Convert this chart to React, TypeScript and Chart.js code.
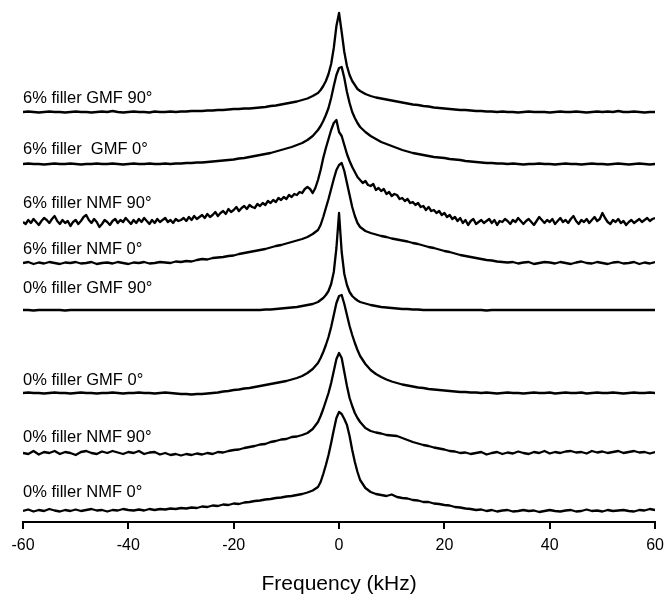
import React, { useEffect, useRef } from "react";
import { Chart, registerables } from "chart.js";

Chart.register(...registerables);

// Frequency grid (kHz)
const FREQ_KHZ = [
  -60, -59, -58, -57, -56, -55, -54, -53, -52, -51,
  -50, -49, -48, -47, -46, -45, -44, -43, -42, -41,
  -40, -39, -38, -37, -36, -35, -34, -33, -32, -31,
  -30, -29, -28, -27, -26, -25, -24, -23, -22, -21,
  -20, -19, -18, -17, -16, -15, -14, -13, -12, -11,
  -10, -9, -8, -7, -6, -5, -4,
  -3.5, -3, -2.5, -2, -1.5, -1, -0.5, 0, 0.5, 1, 1.5, 2, 2.5, 3, 3.5,
  4, 5, 6, 7, 8, 9, 10,
  11, 12, 13, 14, 15, 16, 17, 18, 19, 20,
  21, 22, 23, 24, 25, 26, 27, 28, 29, 30,
  31, 32, 33, 34, 35, 36, 37, 38, 39, 40,
  41, 42, 43, 44, 45, 46, 47, 48, 49, 50,
  51, 52, 53, 54, 55, 56, 57, 58, 59, 60,
];

// finer grid used for the noisiest spectrum
const FREQ_FINE = [
  -60, -59.5, -59, -58.5, -58, -57.5, -57, -56.5, -56, -55.5,
  -55, -54.5, -54, -53.5, -53, -52.5, -52, -51.5, -51, -50.5,
  -50, -49.5, -49, -48.5, -48, -47.5, -47, -46.5, -46, -45.5,
  -45, -44.5, -44, -43.5, -43, -42.5, -42, -41.5, -41, -40.5,
  -40, -39.5, -39, -38.5, -38, -37.5, -37, -36.5, -36, -35.5,
  -35, -34.5, -34, -33.5, -33, -32.5, -32, -31.5, -31, -30.5,
  -30, -29.5, -29, -28.5, -28, -27.5, -27, -26.5, -26, -25.5,
  -25, -24.5, -24, -23.5, -23, -22.5, -22, -21.5, -21, -20.5,
  -20, -19.5, -19, -18.5, -18, -17.5, -17, -16.5, -16, -15.5,
  -15, -14.5, -14, -13.5, -13, -12.5, -12, -11.5, -11, -10.5,
  -10, -9.5, -9, -8.5, -8, -7.5, -7, -6.5, -6, -5.5,
  -5, -4.5, -4, -3.5, -3, -2.5, -2, -1.5, -1, -0.5,
  0, 0.5, 1, 1.5, 2, 2.5, 3, 3.5, 4, 4.5,
  5, 5.5, 6, 6.5, 7, 7.5, 8, 8.5, 9, 9.5,
  10, 10.5, 11, 11.5, 12, 12.5, 13, 13.5, 14, 14.5,
  15, 15.5, 16, 16.5, 17, 17.5, 18, 18.5, 19, 19.5,
  20, 20.5, 21, 21.5, 22, 22.5, 23, 23.5, 24, 24.5,
  25, 25.5, 26, 26.5, 27, 27.5, 28, 28.5, 29, 29.5,
  30, 30.5, 31, 31.5, 32, 32.5, 33, 33.5, 34, 34.5,
  35, 35.5, 36, 36.5, 37, 37.5, 38, 38.5, 39, 39.5,
  40, 40.5, 41, 41.5, 42, 42.5, 43, 43.5, 44, 44.5,
  45, 45.5, 46, 46.5, 47, 47.5, 48, 48.5, 49, 49.5,
  50, 50.5, 51, 51.5, 52, 52.5, 53, 53.5, 54, 54.5,
  55, 55.5, 56, 56.5, 57, 57.5, 58, 58.5, 59, 59.5,
  60,
];

const X_TICKS = [-60, -40, -20, 0, 20, 40, 60];

const TRACE_LABELS = [
  "6% filler GMF 90°",
  "6% filler  GMF 0°",
  "6% filler NMF 90°",
  "6% filler NMF 0°",
  "0% filler GMF 90°",
  "0% filler GMF 0°",
  "0% filler NMF 90°",
  "0% filler NMF 0°",
];

// vertical stacking offset of each spectrum (arbitrary intensity units)
const OFFSETS = [410, 358, 300, 259, 212, 129, 69, 11];
// level at which each trace label sits
const LABEL_LEVELS = [424, 373, 319, 273, 234, 142, 85, 30];

// intensities (normalised, peak ~100)
const S6_GMF90 = [
  0, 0.5, 0, -0.5, 0, 0.5, 0, 0, -0.5, 0,
  0.5, 0, 0, -0.5, 0, 0.5, 0, 1, 0, -0.5,
  0, 0.5, 0, 0, -0.5, 0.5, 0, 0, 0.5, 0,
  0.5, 0.5, 1, 1, 1, 1.5, 1.5, 2, 2, 2.5,
  3, 3, 3.5, 3.5, 4, 4.5, 5, 6, 6.5, 7.5,
  8.5, 9.5, 10.5, 12, 13.5, 16, 19,
  22, 26, 31, 38, 48, 64, 86, 99, 80, 60, 46, 37, 31, 27, 23,
  21, 18, 16, 14.5, 13.5, 12.5, 11.5,
  10.5, 9.5, 8.5, 7.5, 7, 6, 5.5, 4.5, 4, 3.5,
  3, 2.5, 2, 2, 1.5, 1, 1, 0.5, 0.5, 0,
  0.5, 0, 0, -0.5, 0, 0.5, 0, 0, 0, -0.5,
  0, 0.5, 0, 0, 0.5, 0, -0.5, 0, 0.5, 0,
  0.5, 0, 1, 0, 0, 0.5, 0, -0.5, 0, 0,
];

const S6_GMF0 = [
  0, 0.5, 0, 0, -0.5, 0, 0.5, 0, 0, 0.5,
  0, -0.5, 0, 0, 0.5, 0, 0, 0.5, 0, -0.5,
  0, 0.5, 0, 0, 0.5, 0, 0, 0.5, 0, 0.5,
  0.5, 1, 1, 1.5, 1.5, 2, 2.5, 3, 3.5, 4,
  4.5, 5.5, 6, 7, 8, 9, 10, 11, 12.5, 14,
  15.5, 17, 19, 21, 24, 28, 34,
  38, 43, 49, 56, 66, 78, 89, 96, 97, 86, 72, 61, 52, 46, 41,
  37, 32, 28, 25, 22, 20, 18,
  16, 14, 12.5, 11, 10, 9, 8, 7, 6.5, 6,
  5, 4.5, 4, 3, 2.5, 2, 1.5, 1, 1, 0.5,
  0.5, 0, 0.5, 0, -0.5, 0, 0, 0.5, 0, 0,
  -0.5, 0, 0.5, 0, 0, -0.5, 0, 0.5, 0, 0,
  -0.5, 0, 0.5, 0, -0.5, 0, 0.5, 0, -0.5, 0,
];

// on FREQ_FINE
const S6_NMF90 = [
  0, -2, 2, -1, 3, 0, -3, 1, 4, 2,
  -1, 3, 6, 1, -2, 2, -1, 1, -4, 0,
  2, -2, 1, 5, 7, 2, -1, 3, 0, -5,
  -2, 2, 0, -3, 1, 3, -1, 2, 0, 4,
  1, -2, 2, -1, 3, 0, 4, 1, -2, 2,
  -1, 3, 0, 2, 4, 0, 2, -1, 3, 1,
  2, 4, 1, 5, 2, 6, 3, 5, 7, 4,
  8, 5, 7, 10, 6, 9, 11, 8, 13, 10,
  12, 15, 11, 14, 16, 13, 17, 15, 14, 18,
  16, 19, 17, 21, 19, 22, 20, 24, 22, 25,
  23, 27, 25, 28, 27, 30, 29, 33, 35, 33,
  29, 34, 42, 52, 64, 74, 83, 92, 99, 102,
  90, 86, 77, 68, 61, 55, 50, 45, 42, 39,
  41, 37, 36, 38, 32, 34, 31, 33, 28, 30,
  26, 28, 27, 23, 24, 21, 23, 19, 20, 17,
  19, 15, 16, 12, 15, 11, 12, 9, 11, 7,
  9, 5, 7, 3, 5, 1, 4, -1, 2, -3,
  1, 3, -2, 0, 2, -1, 1, 3, -1, 2,
  -3, 1, 0, 3, 1, -2, 2, 0, 4, 1,
  -2, 1, 3, 0, -3, 1, 5, 2, -1, 2,
  0, 3, -2, 1, 4, 0, 2, -1, 3, 6,
  1, -2, 2, 0, 3, -1, 2, 5, 1, 3,
  9, 4, 0, -2, 2, 0, 3, -1, 1, -3,
  0, 2, -1, 1, 3, 0, 2, 4, 1, 3,
  4,
];

const S6_NMF0 = [
  0, 1, -1, 0.5, -0.5, 1, 0, -1, 0.5, 0,
  1, -0.5, 0, 1, -1, 0, 0.5, -0.5, 1, 0,
  -1, 0.5, 0, 1, -0.5, 0, 1, 0.5, 0, 1.5,
  1, 2, 1.5, 3, 4, 3.5, 5, 5.5, 6, 7,
  7.5, 9, 10, 11, 12, 13, 14, 15.5, 17, 18,
  19.5, 21, 22.5, 24, 26, 29, 33,
  38, 46, 55, 64, 74, 84, 93, 98, 100, 92, 80, 68, 56, 47, 40,
  36, 32, 30, 28.5, 27, 26, 24.5,
  23.5, 22.5, 21.5, 20, 19, 17.5, 16, 15, 13.5, 12,
  11, 9.5, 8, 7, 6, 5, 4, 3, 2.5, 1.5,
  1, 0.5, 1, -0.5, 0.5, 1, -1, 0, 1, 0.5,
  -0.5, 1, 0, -1, 0.5, 1.5, 0, -0.5, 1, 0,
  -1, 0.5, 1, -0.5, 0, 1, -1, 0.5, -0.5, 1,
];

const S0_GMF90 = [
  0, 0, -0.5, 0, 0, 0, 0, 0, -0.5, 0,
  0, 0, 0, 0, 0, 0, 0, 0, 0, 0,
  0, 0, 0, 0, 0, 0, 0, 0, 0, 0,
  0, 0, 0, 0, 0, 0, 0, 0, 0, 0,
  0, 0, 0, 0, 0, 0, 0.5, 0.5, 1, 1.5,
  2, 2.5, 3, 4, 5, 6, 8,
  10, 12, 15, 19, 26, 38, 62, 97, 58, 36, 25, 18, 14, 11.5, 9.5,
  8, 6.5, 5, 4, 3, 2.5, 2,
  1.5, 1, 1, 0.5, 0.5, 0, 0, 0, 0, 0,
  0, 0, 0, 0, 0, 0, 0, -0.5, 0, 0,
  0, 0, 0, 0, 0, 0, 0, 0, 0, 0,
  0, 0, 0, 0, 0, 0, 0, 0, 0, 0,
  0, 0, 0, 0, 0, 0, 0, 0, 0, 0,
];

const S0_GMF0 = [
  0, 0.5, 0, 0, -0.5, 0, 0.5, 0, 0, -0.5,
  0, 0.5, 0, 0, -0.5, 0, 0, 0.5, 0, -0.5,
  0, 0, 0.5, 0, 0, -0.5, 0, 0.5, 0, -0.5,
  -1, -1, -1.5, -1, -1, -0.5, 0, 0.5, 1.5, 2,
  3, 3.5, 4.5, 5, 6, 7, 8, 9, 10, 11,
  12, 13.5, 15, 17, 20, 24, 30,
  35, 41, 48, 56, 66, 78, 90, 97, 98, 89, 78, 67, 58, 50, 43,
  37, 29, 23, 19, 16, 13.5, 11.5,
  10, 8.5, 7.5, 6.5, 5.5, 5, 4, 3.5, 3, 2.5,
  2, 1.5, 1, 1, 0.5, 0.5, 0, 0.5, 0, -0.5,
  0, 0.5, 0, 0, -0.5, 0, 0.5, 0, 0, 0.5,
  -0.5, 0, 0.5, 0, 0, 0.5, -0.5, 0, 0.5, 0,
  0, 0.5, 0, -0.5, 0, 0.5, 0, 0, 0.5, 0,
];

const S0_NMF90 = [
  0, -1, 2, -1.5, 1, 0, 2, -1, 1, 0,
  -2, 1, 2, 0, -1, 1.5, 0, 2, 0.5, -1,
  1, 0, 2, -1, 0.5, 1, -1.5, 0, -2, -1,
  -2.5, -1, -2, -0.5, -1.5, 0, -1, 1, 0.5, 2,
  3, 3.5, 5, 6, 7, 8.5, 9, 11, 12, 13.5,
  14, 16, 16.5, 18, 20, 24, 31,
  37, 44, 52, 60, 70, 82, 94, 100, 95, 81, 67, 55, 47, 40, 35,
  31, 25, 22, 20.5, 19.5, 18, 17.5,
  17, 15, 13, 11, 9.5, 8, 7, 5.5, 4.5, 3.5,
  2, 1.5, 0, 0.5, -1, 0, 1, -1.5, 0, 1,
  -1, 0.5, -0.5, 1.5, 0, -1, 1, 0, 2, -0.5,
  1, 0, 1.5, 2, 0.5, 1, -0.5, 2, 0.5, 1.5,
  0, 1, 2, 0, 1, 2, 0.5, 1, -0.5, 1,
];

const S0_NMF0 = [
  0, 1.5, -0.5, 1, 0, 2, 0.5, -0.5, 1, 0,
  1.5, 0, 1, 2, 0.5, 1, -0.5, 1, 0.5, 2,
  1, 0.5, 1.5, 0.5, 2, 1, 2, 1.5, 2.5, 2,
  3, 2.5, 3.5, 3, 4.5, 4, 5.5, 5, 6.5, 6,
  7.5, 7, 8.5, 9, 10, 10.5, 11.5, 12, 13, 13.5,
  14.5, 15, 16, 17, 18.5, 20.5, 24,
  29, 37, 46, 56, 68, 81, 93, 99, 97, 92, 86, 75, 61, 49, 39,
  31, 23, 19, 17, 16, 15, 16.5,
  14, 13, 12.5, 11, 10.5, 9, 9, 7.5, 7, 6,
  5.5, 4, 3.5, 2.5, 2, 1, 1.5, 0, 1, -0.5,
  0.5, 1, -0.5, 0, 1, 0, 0.5, -1, 0, 1,
  0, -0.5, 0.5, 1, -0.5, 0, 1.5, 0, 0.5, -0.5,
  1, 0, 0.5, 1, 0, -0.5, 1, 0.5, 2, 1,
];

const SERIES = [S6_GMF90, S6_GMF0, S6_NMF90, S6_NMF0, S0_GMF90, S0_GMF0, S0_NMF90, S0_NMF0];
const SERIES_FREQ = [FREQ_KHZ, FREQ_KHZ, FREQ_FINE, FREQ_KHZ, FREQ_KHZ, FREQ_KHZ, FREQ_KHZ, FREQ_KHZ];

const FONT_FAMILY = '"Liberation Sans", Arial, Helvetica, sans-serif';

const labelPlugin = {
  id: "traceLabels",
  afterDatasetsDraw(chart: any) {
    const { ctx, scales } = chart;
    const x = scales.x;
    const y = scales.y;
    ctx.save();
    ctx.font = `16.5px ${FONT_FAMILY}`;
    ctx.fillStyle = "#000";
    ctx.textBaseline = "middle";
    ctx.textAlign = "left";
    TRACE_LABELS.forEach((t, i) => {
      ctx.fillText(t, x.getPixelForValue(X_TICKS[0]), y.getPixelForValue(LABEL_LEVELS[i]));
    });
    ctx.restore();
  },
};

export default function App() {
  const canvasRef = useRef<HTMLCanvasElement | null>(null);

  useEffect(() => {
    const canvas = canvasRef.current;
    if (!canvas) return;
    const datasets = SERIES.map((s, k) => ({
      label: TRACE_LABELS[k],
      data: SERIES_FREQ[k].map((f, i) => ({ x: f, y: OFFSETS[k] + s[i] })),
      borderColor: "#000",
      backgroundColor: "#000",
      borderWidth: 2.3,
      borderJoinStyle: "round" as const,
      pointRadius: 0,
      tension: 0,
      fill: false,
    }));
    const chart = new Chart(canvas, {
      type: "line",
      data: { datasets },
      options: {
        animation: false,
        responsive: false,
        devicePixelRatio: 1,
        layout: { padding: { left: 23, right: 11, top: 10, bottom: 0 } },
        plugins: { legend: { display: false }, tooltip: { enabled: false } },
        scales: {
          x: {
            type: "linear",
            min: X_TICKS[0],
            max: X_TICKS[X_TICKS.length - 1],
            afterBuildTicks: (scale: any) => {
              scale.ticks = X_TICKS.map((v) => ({ value: v }));
            },
            afterFit: (scale: any) => {
              scale.height = 73;
            },
            grid: {
              display: true,
              drawOnChartArea: false,
              drawTicks: true,
              tickLength: 7,
              color: "#000",
              lineWidth: 2,
            },
            border: { display: true, color: "#000", width: 2 },
            ticks: {
              color: "#000",
              padding: 7,
              font: { family: FONT_FAMILY, size: 16 },
              maxRotation: 0,
              autoSkip: false,
            },
            title: {
              display: true,
              text: "Frequency (kHz)",
              color: "#000",
              font: { family: FONT_FAMILY, size: 21, lineHeight: 1 },
              padding: { top: 0, bottom: 0 },
            },
          },
          y: {
            type: "linear",
            display: false,
            min: 0,
            max: 512,
          },
        },
      },
      plugins: [labelPlugin],
    });
    return () => chart.destroy();
  }, []);

  return (
    <div style={{ position: "absolute", left: 0, top: 0, width: 671, height: 595, background: "#fff" }}>
      <canvas ref={canvasRef} width={671} height={595} style={{ display: "block" }} />
    </div>
  );
}
